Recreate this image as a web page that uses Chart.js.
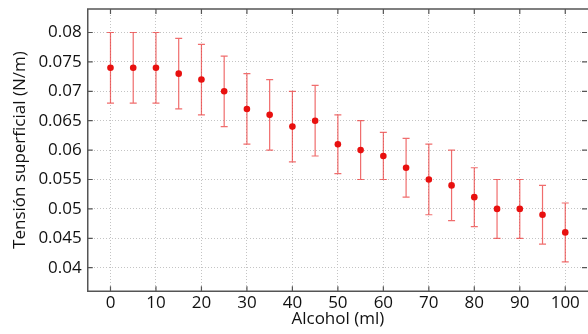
<!DOCTYPE html>
<html>
<head>
<meta charset="utf-8">
<script src="https://cdn.jsdelivr.net/npm/chart.js@4.4.1/dist/chart.umd.min.js"></script>
<style>
    html, body { margin: 0; padding: 0; background: #fff; }
    #wrap { width: 588px; height: 334px; }
</style>
</head>
<body>
<div id="wrap"><canvas id="chart"></canvas></div>
<script>
const alcohol = [0, 5, 10, 15, 20, 25, 30, 35, 40, 45, 50, 55, 60, 65, 70, 75, 80, 85, 90, 95, 100];
const tension = [0.074, 0.074, 0.074, 0.073, 0.072, 0.070, 0.067, 0.066, 0.064, 0.065, 0.061,
                 0.060, 0.059, 0.057, 0.055, 0.054, 0.052, 0.050, 0.050, 0.049, 0.046];
const tensionErr = [0.006, 0.006, 0.006, 0.006, 0.006, 0.006, 0.006, 0.006, 0.006, 0.006, 0.005,
                    0.005, 0.004, 0.005, 0.006, 0.006, 0.005, 0.005, 0.005, 0.005, 0.005];
const xTicks = [0, 10, 20, 30, 40, 50, 60, 70, 80, 90, 100];
const yTicks = [0.04, 0.045, 0.05, 0.055, 0.06, 0.065, 0.07, 0.075, 0.08];

const FONT = "'Open Sans', sans-serif";

// error bars, drawn before the points
const errorBars = {
    id: "errorBars",
    beforeDatasetsDraw(chart) {
        const { ctx, scales: { x, y } } = chart;
        ctx.save();
        ctx.strokeStyle = "rgba(235, 60, 60, 0.75)";
        ctx.lineWidth = 1.2;
        alcohol.forEach((a, i) => {
            const px = x.getPixelForValue(a);
            const top = y.getPixelForValue(tension[i] + tensionErr[i]);
            const bot = y.getPixelForValue(tension[i] - tensionErr[i]);
            ctx.beginPath();
            ctx.moveTo(px, top); ctx.lineTo(px, bot);
            ctx.moveTo(px - 3.5, top); ctx.lineTo(px + 3.5, top);
            ctx.moveTo(px - 3.5, bot); ctx.lineTo(px + 3.5, bot);
            ctx.stroke();
        });
        ctx.restore();
    }
};

// frame (right side falls off the canvas) and inward tick marks
const frame = {
    id: "frame",
    afterDraw(chart) {
        const { ctx, chartArea: a, scales: { x, y } } = chart;
        const w = chart.width;
        ctx.save();
        ctx.strokeStyle = "#555";
        ctx.lineWidth = 1.5;
        ctx.beginPath();
        ctx.moveTo(w, a.top); ctx.lineTo(a.left, a.top);
        ctx.lineTo(a.left, a.bottom); ctx.lineTo(w, a.bottom);
        ctx.stroke();
        ctx.lineWidth = 1.2;
        ctx.beginPath();
        xTicks.forEach(v => {
            const px = x.getPixelForValue(v);
            ctx.moveTo(px, a.bottom); ctx.lineTo(px, a.bottom - 5);
            ctx.moveTo(px, a.top); ctx.lineTo(px, a.top + 5);
        });
        yTicks.forEach(v => {
            const py = y.getPixelForValue(v);
            ctx.moveTo(a.left, py); ctx.lineTo(a.left + 5, py);
            ctx.moveTo(a.right - 1, py); ctx.lineTo(a.right - 6, py);
        });
        ctx.stroke();
        ctx.restore();
    }
};

const ctx = document.getElementById("chart").getContext("2d");
new Chart(ctx, {
    type: "scatter",
    data: {
        datasets: [{
            data: alcohol.map((a, i) => ({ x: a, y: tension[i] })),
            backgroundColor: "#e8100f",
            borderColor: "#e8100f",
            pointRadius: 3.3,
            pointBorderWidth: 0
        }]
    },
    options: {
        responsive: true,
        maintainAspectRatio: false,
        animation: false,
        layout: { autoPadding: false, padding: { top: 9, right: 0, left: 10, bottom: 5 } },
        plugins: {
            legend: { display: false },
            tooltip: { enabled: false }
        },
        scales: {
            x: {
                type: "linear",
                min: -5,
                max: 105,
                afterBuildTicks: s => { s.ticks = xTicks.map(v => ({ value: v })); },
                afterFit: s => { s.paddingRight = 0; },
                ticks: {
                    color: "#111",
                    font: { family: FONT, size: 17 },
                    padding: 2,
                    maxRotation: 0,
                    callback: v => String(v)
                },
                grid: { color: "#c4c4c4", drawTicks: false, lineWidth: 1 },
                border: { display: false, dash: [1, 2] },
                title: {
                    display: true,
                    text: "Alcohol (ml)",
                    color: "#111",
                    font: { family: FONT, size: 17 },
                    padding: { top: -7, bottom: 0 }
                }
            },
            y: {
                min: 0.036,
                max: 0.084,
                afterBuildTicks: s => { s.ticks = yTicks.map(v => ({ value: v })); },
                afterFit: s => { s.paddingTop = 0; s.paddingBottom = 0; },
                ticks: {
                    color: "#111",
                    font: { family: FONT, size: 17 },
                    padding: 6,
                    callback: v => String(+v.toFixed(3))
                },
                grid: { color: "#c4c4c4", drawTicks: false, lineWidth: 1 },
                border: { display: false, dash: [1, 2] },
                title: {
                    display: true,
                    text: "Tensión superficial (N/m)",
                    color: "#111",
                    font: { family: FONT, size: 17 },
                    padding: { top: 0, bottom: 2 }
                }
            }
        }
    },
    plugins: [errorBars, frame]
});
</script>
</body>
</html>
